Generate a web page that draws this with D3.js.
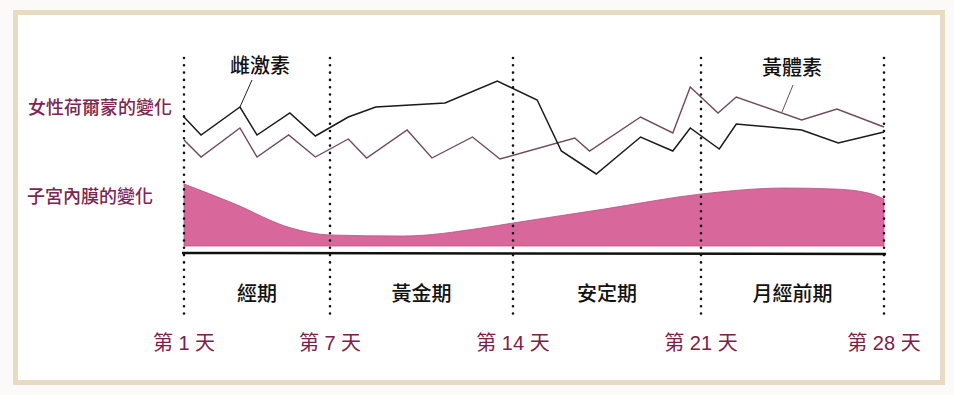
<!DOCTYPE html>
<html>
<head>
<meta charset="utf-8">
<script src="https://cdn.jsdelivr.net/npm/d3@7"></script>
<style>
  body { margin: 0; background: #fbfaf8; }
  svg { display: block; font-family: "Noto Sans CJK TC", "Noto Sans", sans-serif; }
  .day { font-family: "Liberation Sans", "Noto Sans CJK TC", sans-serif; }
</style>
</head>
<body>
<svg id="chart" width="954" height="395"></svg>
<script>
// marker days and their labels
var markerDays = [1, 7, 14, 21, 28];
var dayLabels = ['第 1 天', '第 7 天', '第 14 天', '第 21 天', '第 28 天'];

// phases between markers
var phaseNames = ['經期', '黃金期', '安定期', '月經前期'];
var phaseStart = [1, 7, 14, 21];
var phaseEnd = [7, 14, 21, 28];

// estrogen (black line), day -> level
var estrogenDays = [1, 1.7, 3.3, 4.0, 5.35, 6.4, 7.7, 8.75, 11.4, 13.4, 14.9, 15.8, 17.1, 18.75, 19.95, 20.6, 21.7, 22.35, 24.85, 26.25, 28];
var estrogenLevel = [63, 45, 73, 45, 67, 44, 63, 73, 77, 99, 80, 29, 6, 43, 29, 52, 31, 56, 50, 37, 48];

// progesterone (mauve line)
var progDays = [1, 1.7, 3.3, 4.0, 5.3, 6.4, 7.7, 8.4, 9.95, 10.9, 12.45, 13.5, 16.3, 16.85, 18.75, 19.95, 20.6, 21.65, 22.35, 24.85, 26.2, 28];
var progLevel = [40, 23, 52, 23, 45, 23, 41, 22, 50, 22, 43, 21, 42, 29, 63, 47, 93, 67, 83, 60, 71, 53];

// endometrium thickness
var endoDays = [1, 3, 5.4, 7, 9.8, 12.8, 14, 17.4, 21, 24.2, 26.1, 27.4, 28];
var endoThick = [62, 43, 18, 11, 10, 18, 23, 37, 52, 58, 57, 53, 47];

var svg = d3.select('#chart');

// frame
svg.append('rect')
    .attr('x', 15.5).attr('y', 12.5)
    .attr('width', 927).attr('height', 370)
    .attr('fill', '#fff')
    .attr('stroke', '#e8dac3')
    .attr('stroke-width', 5);

var x = d3.scaleLinear()
    .domain(markerDays)
    .range([184, 330, 513, 701, 884]);

var yHormone = d3.scaleLinear().domain([0, 100]).range([180, 80]);
var yEndo = d3.scaleLinear().domain([0, 62]).range([246, 184]);

// endometrium area
var area = d3.area()
    .x(function(d, i) { return x(endoDays[i]); })
    .y0(yEndo(0))
    .y1(function(d) { return yEndo(d); })
    .curve(d3.curveMonotoneX);

svg.append('path')
    .datum(endoThick)
    .attr('d', area)
    .attr('fill', '#d8679c')
    .attr('stroke', '#b8537f')
    .attr('stroke-width', 0.8);

// baseline
svg.append('line')
    .attr('x1', x(1) - 2).attr('x2', x(28) + 2)
    .attr('y1', 253).attr('y2', 254)
    .attr('stroke', '#111')
    .attr('stroke-width', 2.5);

// hormone lines
var line = d3.line()
    .x(function(d) { return x(d[0]); })
    .y(function(d) { return yHormone(d[1]); });

svg.append('path')
    .datum(d3.zip(progDays, progLevel))
    .attr('d', line)
    .attr('fill', 'none')
    .attr('stroke', '#6e4a5e')
    .attr('stroke-width', 1.4);

svg.append('path')
    .datum(d3.zip(estrogenDays, estrogenLevel))
    .attr('d', line)
    .attr('fill', 'none')
    .attr('stroke', '#1a1a1a')
    .attr('stroke-width', 1.5);

// dotted day markers
svg.append('g')
    .selectAll('line')
    .data(markerDays)
    .enter().append('line')
    .attr('x1', function(d) { return x(d); })
    .attr('x2', function(d) { return x(d); })
    .attr('y1', 58).attr('y2', 314)
    .attr('stroke', '#111')
    .attr('stroke-width', 2.6)
    .attr('stroke-linecap', 'round')
    .attr('stroke-dasharray', '0,7.3');

// callouts
svg.append('line')
    .attr('x1', 252).attr('y1', 80)
    .attr('x2', x(3.3)).attr('y2', yHormone(73))
    .attr('stroke', '#222').attr('stroke-width', 1);
svg.append('text')
    .attr('x', 260).attr('y', 66)
    .attr('text-anchor', 'middle').attr('dy', '0.35em')
    .attr('font-size', 20).attr('font-weight', 500).attr('fill', '#111')
    .text('雌激素');

svg.append('line')
    .attr('x1', 793).attr('y1', 85)
    .attr('x2', 782).attr('y2', 112)
    .attr('stroke', '#6e4a5e').attr('stroke-width', 1);
svg.append('text')
    .attr('x', 792).attr('y', 68)
    .attr('text-anchor', 'middle').attr('dy', '0.35em')
    .attr('font-size', 20).attr('font-weight', 500).attr('fill', '#111')
    .text('黃體素');

// left labels
svg.append('text')
    .attr('x', 100).attr('y', 108)
    .attr('text-anchor', 'middle').attr('dy', '0.35em')
    .attr('font-size', 18).attr('font-weight', 500).attr('fill', '#7c2653')
    .text('女性荷爾蒙的變化');
svg.append('text')
    .attr('x', 90).attr('y', 197)
    .attr('text-anchor', 'middle').attr('dy', '0.35em')
    .attr('font-size', 18).attr('font-weight', 500).attr('fill', '#7c2653')
    .text('子宮內膜的變化');

// phase labels
svg.append('g')
    .selectAll('text')
    .data(phaseNames)
    .enter().append('text')
    .attr('x', function(d, i) { return (x(phaseStart[i]) + x(phaseEnd[i])) / 2; })
    .attr('y', 294)
    .attr('text-anchor', 'middle').attr('dy', '0.35em')
    .attr('font-size', 20).attr('font-weight', 500).attr('fill', '#111')
    .text(function(d) { return d; });

// day labels
svg.append('g')
    .selectAll('text')
    .data(markerDays)
    .enter().append('text')
    .attr('class', 'day')
    .attr('x', function(d) { return x(d); })
    .attr('y', 343)
    .attr('text-anchor', 'middle').attr('dy', '0.35em')
    .attr('font-size', 20).attr('fill', '#7a2148')
    .text(function(d, i) { return dayLabels[i]; });
</script>
</body>
</html>
